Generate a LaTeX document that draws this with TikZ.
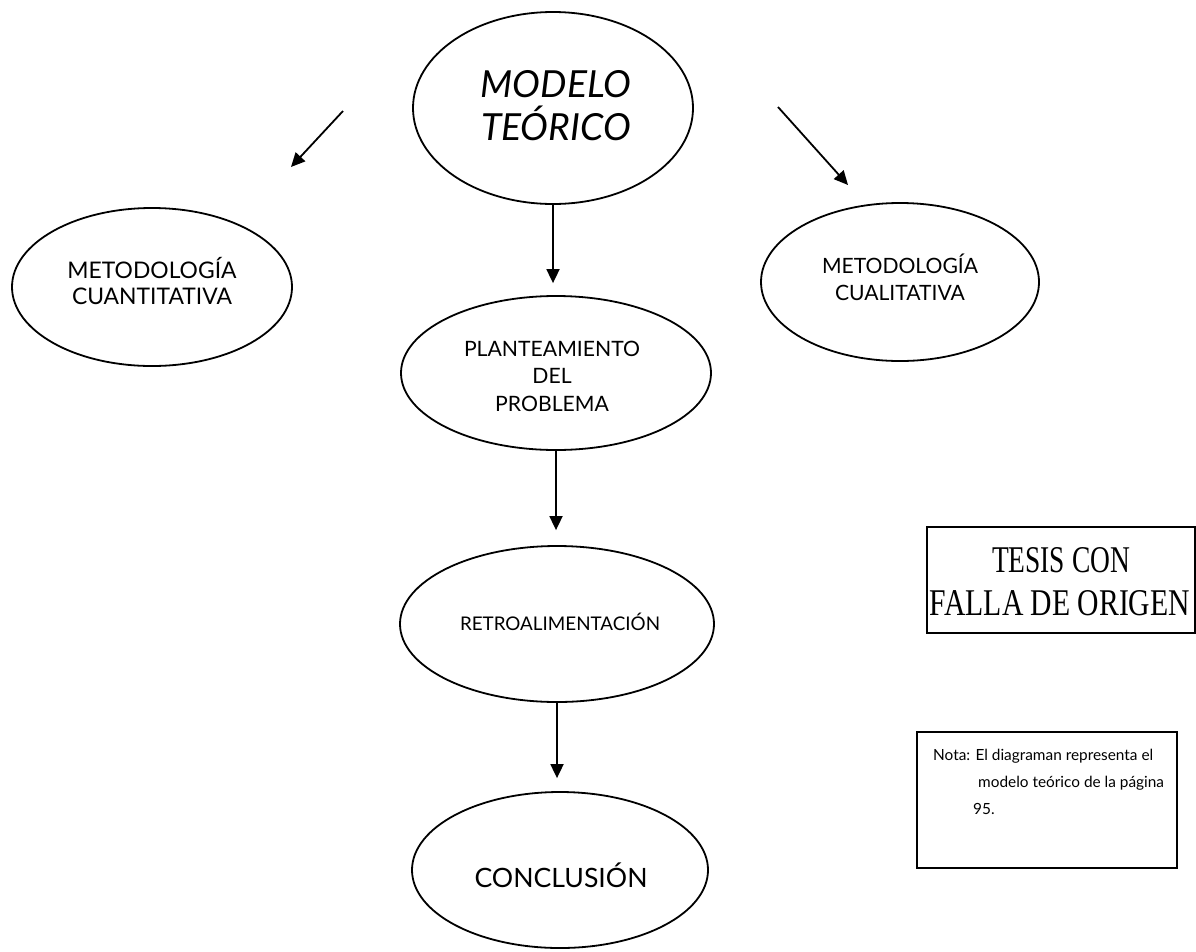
\documentclass[tikz,border=0pt]{standalone}
\usepackage{graphicx}
\usepackage{fontspec}
\setmainfont{Lato}
\newfontfamily\stampfont{Liberation Serif}
\usetikzlibrary{shapes.geometric,arrows.meta}
\newlength\fitlen
% #1 target width of the widest line (pt), #2 widest line, #3 baselineskip
\newcommand\fitfont[3]{\settowidth\fitlen{\fontsize{10pt}{12pt}\selectfont #2}%
  \pgfmathsetmacro\fitsz{10*#1/\fitlen}\fontsize{\fitsz pt}{#3}\selectfont}
\begin{document}
\begin{tikzpicture}[x=1pt,y=-1pt,
  oval/.style={draw, ellipse, line width=1.8pt, inner sep=0pt},
  link/.style={line width=1.8pt, -{Triangle[width=13pt,length=14pt]}},
  lbl/.style={align=center, inner sep=0pt},
  frame/.style={draw, line width=2pt, inner sep=0pt}]
\useasboundingbox[fill=white] (0,0) rectangle (1196,951);

% ellipses
\node[oval, minimum width=280pt, minimum height=192pt] (top) at (553,108) {};
\node[oval, minimum width=280pt, minimum height=158pt] (cuant) at (152,287) {};
\node[oval, minimum width=278pt, minimum height=158pt] (cual) at (900,282) {};
\node[oval, minimum width=310pt, minimum height=154pt] (plant) at (556,373) {};
\node[oval, minimum width=314pt, minimum height=156pt] (retro) at (557,624) {};
\node[oval, minimum width=296pt, minimum height=156pt] (concl) at (560,870) {};

% texts
\node[lbl, font={\itshape\fitfont{150}{TEÓRICO}{43pt}}] (toptxt) at (556,106)
  {MODELO\\TEÓRICO};
\node[lbl, font={\fitfont{160}{CUANTITATIVA}{26pt}}] (cuanttxt) at (152,281)
  {METODOLOGÍA\\CUANTITATIVA};
\node[lbl, font={\fitfont{156}{METODOLOGÍA}{27pt}}] (cualtxt) at (900,277)
  {METODOLOGÍA\\CUALITATIVA};
\node[lbl, font={\fitfont{176}{PLANTEAMIENTO}{27.5pt}}] (planttxt) at (552,376)
  {PLANTEAMIENTO\\DEL\\PROBLEMA};
\node[lbl, font={\fitfont{200}{RETROALIMENTACIÓN}{22pt}}] (retrotxt) at (560,622)
  {RETROALIMENTACIÓN};
\node[lbl, font={\fitfont{173}{CONCLUSIÓN}{30pt}}] (concltxt) at (561,875)
  {CONCLUSIÓN};

% arrows
\draw[link, shorten >=12pt] (top.south) -- (top.south |- plant.north);
\draw[link, shorten >=15pt] (plant.south) -- (plant.south |- retro.north);
\draw[link, shorten >=13pt] (retro.south) -- (retro.south |- concl.north);
\coordinate (la1) at (343,111);
\coordinate (la2) at (291,167);
\coordinate (ra1) at (778,107);
\coordinate (ra2) at (848,185);
\draw[link] (la1) -- (la2);
\draw[link] (ra1) -- (ra2);

% stamp
\node[frame, line width=2.4pt, minimum width=268pt, minimum height=106pt] (stamp) at (1061,580) {};
\node[lbl, font=\stampfont\fontsize{30}{30}\selectfont] (stamp1) at (1061,560)
  {\resizebox{138pt}{25pt}{TESIS CON}};
\node[lbl, font=\stampfont\fontsize{30}{30}\selectfont] (stamp2) at (1060,603)
  {\resizebox{260pt}{25pt}{FALLA DE ORIGEN}};

% note
\node[frame, minimum width=260pt, minimum height=136pt] (notebox) at (1047,800) {};
\node[anchor=north west, align=left, inner sep=0pt,
      font={\fitfont{220}{Nota: El diagraman representa el}{27pt}}] (notetxt) at (933,749)
  {Nota: El diagraman representa el\\
   \hspace*{45pt}modelo teórico de la página\\
   \hspace*{40pt}95.};
\end{tikzpicture}
\end{document}
